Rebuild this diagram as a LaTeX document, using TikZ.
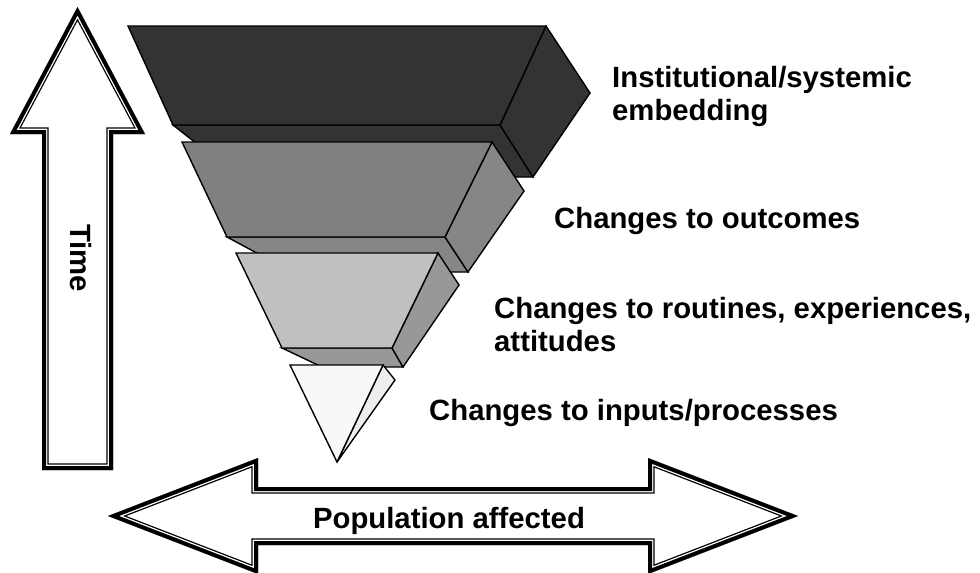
\documentclass[tikz,border=0pt]{standalone}
\usepackage{fontspec}
\setmainfont{Liberation Sans}
\definecolor{tierA}{HTML}{333333}
\definecolor{tierB}{HTML}{808080}
\definecolor{tierBside}{HTML}{868686}
\definecolor{tierC}{HTML}{C0C0C0}
\definecolor{tierCside}{HTML}{989898}
\definecolor{tierD}{HTML}{F8F8F8}
\definecolor{tierDside}{HTML}{EEEEEE}
% outlines of the two hollow arrows
\newcommand\TimeShape{(77.5,7) -- (145,134) -- (113,134) -- (113,470) -- (42,470) -- (42,134) -- (10,134) -- cycle}
\newcommand\PopShape{(108,516) -- (258,458) -- (258,487) -- (648,487) -- (648,458) -- (798,516) -- (648,574) -- (648,545) -- (258,545) -- (258,574) -- cycle}
% hollow arrow with a thick outer rule, thin white gap and thin inner rule
\newcommand\HollowArrow[1]{%
  \fill[white] #1;
  \begin{scope}
    \clip #1;
    \draw[black, line width=13.2pt, line join=miter] #1;
    \draw[white, line width=10.6pt, line join=miter] #1;
    \draw[black, line width=8pt, line join=miter] #1;
  \end{scope}}
\begin{document}
\begin{tikzpicture}[x=1pt,y=-1pt,
  face/.style={draw=black, line width=1.4pt, line join=miter},
  caption/.style={anchor=base west, inner sep=0pt, font=\fontsize{29.3}{33}\selectfont\bfseries},
  arrowtext/.style={inner sep=0pt, font=\fontsize{29.3}{33}\selectfont\bfseries},
]
\fill[white] (0,0) rectangle (980,573);
\useasboundingbox (0,0) rectangle (980,573);

% vertical arrow: time
\HollowArrow{\TimeShape}
\node[arrowtext, rotate=-90, anchor=base] (time) at (70,258) {Time};

% horizontal double arrow: population
\HollowArrow{\PopShape}
\node[arrowtext, anchor=base] (pop) at (449,528) {Population affected};

% top tier
\path[face, fill=tierA] (173,125) -- (500,125) -- (533,177) -- (239,177) -- cycle;
\path[face, fill=tierA] (546,26) -- (590,93) -- (533,177) -- (500,125) -- cycle;
\path[face, fill=tierA] (128,26) -- (546,26) -- (500,125) -- (173,125) -- cycle;

% second tier
\path[face, fill=tierBside] (227,237) -- (445,237) -- (468,272) -- (292,272) -- cycle;
\path[face, fill=tierBside] (492,142) -- (524,191) -- (468,272) -- (445,237) -- cycle;
\path[face, fill=tierB] (182,142) -- (492,142) -- (445,237) -- (227,237) -- cycle;

% third tier
\path[face, fill=tierCside] (282,348) -- (392,348) -- (403,367) -- (322,367) -- cycle;
\path[face, fill=tierCside] (438,253) -- (459,285) -- (403,367) -- (392,348) -- cycle;
\path[face, fill=tierC] (236,253) -- (438,253) -- (392,348) -- (282,348) -- cycle;

% apex
\path[face, fill=tierDside] (383,365) -- (395,380) -- (337,462) -- cycle;
\path[face, fill=tierD] (290,365) -- (383,365) -- (337,462) -- cycle;

% tier labels
\node[caption] (inst) at (612,87) {\begin{tabular}[t]{@{}l@{}}Institutional/systemic\\embedding\end{tabular}};
\node[caption] (outc) at (554,228) {Changes to outcomes};
\node[caption] (rout) at (494,318) {\begin{tabular}[t]{@{}l@{}}Changes to routines, experiences,\\attitudes\end{tabular}};
\node[caption] (inp) at (429,420) {Changes to inputs/processes};
\end{tikzpicture}
\end{document}
